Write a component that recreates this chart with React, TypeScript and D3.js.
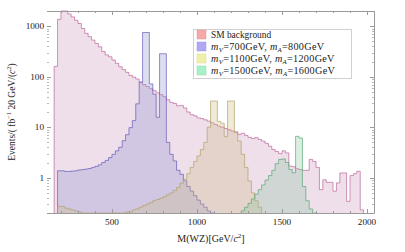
import React, { useEffect, useRef } from 'react';
import * as d3 from 'd3';

// histogram bins: 20 GeV wide
const binWidth = 20;

const smStart = 160;
const smBackground = [
  160, 1370, 2300, 2000, 1750, 1530, 1310, 1130, 900, 720,
  620, 530, 456, 390, 315, 270, 248, 214, 184, 157,
  138, 122, 106, 98, 90, 78, 70, 64, 58, 53,
  48, 44, 40, 35, 31, 29.5, 26.5, 27, 24, 20,
  17.7, 16.8, 15.3, 14.8, 14, 13.2, 12.2, 11.3, 10.5, 10,
  9.4, 8.9, 8.4, 7.9, 7.2, 7.6, 6.9, 6.3, 6.0, 6.2,
  5.7, 5.3, 4.8, 4.2, 3.6, 3.3, 3.0, 3.4, 3.1, 1.7,
  1.65, 1.5, 1.45, 1.4, 1.4, 2.3, 2.1, 1.6, 0.58, 0.91,
  0.81, 0.81, 0.54, 0.79, 1.24, 1.24, 0.34, 1.1, 1.2, 1.34,
  0.23,
];

const sig700Start = 180;
const sig700 = [
  1.37, 1.37, 1.33, 1.33, 1.35, 1.37, 1.42, 1.45, 1.48, 1.52,
  1.6, 1.68, 1.8, 2.0, 2.2, 2.5, 2.9, 3.4, 4.0, 5.4,
  7.1, 9.8, 13.5, 29, 78, 750, 750, 72, 45, 15.7,
  285, 285, 5.0, 2.9, 2.15, 1.4, 1.17, 0.87, 0.67, 0.54,
  0.44, 0.36, 0.3, 0.26, 0.22, 0.19,
];

const sig1100Start = 180;
const sig1100 = [
  0.27, 0.27, 0.25, 0.24, 0.23, 0.22, 0.21, 0.2, 0.2, 0.19,
  0.19, 0.19, 0.19, 0.19, 0.19, 0.19, 0.19, 0.19, 0.2, 0.2,
  0.21, 0.21, 0.23, 0.24, 0.26, 0.28, 0.3, 0.32, 0.35, 0.37,
  0.39, 0.42, 0.46, 0.5, 0.56, 0.64, 0.78, 0.93, 1.2, 1.6,
  2.1, 2.7, 3.6, 5.0, 10, 33, 33, 13, 12, 6.5,
  33, 33, 8.1, 5.3, 2.9, 1.6, 0.86, 0.5, 0.35, 0.26,
];

const sig1500Start = 1260;
const sig1500 = [
  0.22, 0.26, 0.31, 0.38, 0.47, 0.58, 0.72, 0.9, 1.1, 1.4,
  1.9, 2.3, 2.35, 2.0, 1.45, 1.25, 6.6, 6.1, 0.67, 0.35,
  0.24, 0.2,
];

const xTicks = [500, 1000, 1500, 2000];
const yTicks = [1, 10, 100, 1000];
const yTickLabels = ['1', '10', '100', '1000'];

const legendMV = ['700', '1100', '1500'];
const legendMA = ['800', '1200', '1600'];

const series = [
  { start: smStart, values: smBackground, fill: 'rgb(212,176,204)', op: 0.4, line: 'rgb(190,95,150)' },
  { start: sig700Start, values: sig700, fill: 'rgb(150,150,208)', op: 0.32, line: 'rgb(95,88,185)' },
  { start: sig1100Start, values: sig1100, fill: 'rgb(205,185,128)', op: 0.3, line: 'rgb(178,160,95)' },
  { start: sig1500Start, values: sig1500, fill: 'rgb(140,195,155)', op: 0.3, line: 'rgb(80,168,110)' },
];
const swatches = ['#f6a8a8', '#b0a8f4', '#f0f0a8', '#a8f0c6'];

const font = "'Liberation Serif', 'Times New Roman', serif";

export default function App() {
  const ref = useRef<SVGSVGElement>(null);

  useEffect(() => {
    const svg = d3.select(ref.current);
    svg.selectAll('*').remove();

    const left = 47, right = 374, top = 11, bottom = 213;
    const x = d3.scaleLinear().domain([118, 2041]).range([left, right]);
    const y = d3.scaleLog().domain([0.2, 2000]).range([bottom, top]).clamp(true);

    // histograms
    series.forEach((s) => {
      const pts: [number, number][] = [[s.start, 0.1]];
      s.values.forEach((v, i) => {
        const x0 = s.start + i * binWidth;
        pts.push([x0, v], [x0 + binWidth, v]);
      });
      pts.push([s.start + s.values.length * binWidth, 0.1]);

      const area = d3.area<[number, number]>()
        .x((d) => x(d[0]))
        .y0(bottom)
        .y1((d) => y(d[1]));
      const line = d3.line<[number, number]>()
        .x((d) => x(d[0]))
        .y((d) => y(d[1]));

      svg.append('path').attr('d', area(pts)).attr('fill', s.fill).attr('fill-opacity', s.op);
      svg.append('path').attr('d', line(pts)).attr('fill', 'none')
        .attr('stroke', s.line).attr('stroke-width', 0.9).attr('stroke-opacity', 0.75);
    });

    // frame
    const g = svg.append('g').attr('stroke', '#9a9a9a').attr('fill', 'none');
    g.append('line').attr('x1', left).attr('x2', right + 0.5).attr('y1', top + 0.5).attr('y2', top + 0.5);
    g.append('line').attr('x1', left).attr('x2', right + 0.5).attr('y1', bottom + 0.5).attr('y2', bottom + 0.5);
    g.append('line').attr('x1', right + 0.5).attr('x2', right + 0.5).attr('y1', top).attr('y2', bottom + 0.5);

    // x ticks
    const xMinor = d3.range(200, 2001, 100);
    xMinor.forEach((t) => {
      const major = t % 500 === 0;
      const len = major ? 4 : 2;
      const px = Math.round(x(t)) + 0.5;
      g.append('line').attr('x1', px).attr('x2', px).attr('y1', bottom).attr('y2', bottom - len);
      g.append('line').attr('x1', px).attr('x2', px).attr('y1', top).attr('y2', top + len);
    });

    // y ticks
    const yMinor: number[] = [];
    [0.1, 1, 10, 100, 1000].forEach((d) => {
      for (let k = 1; k < 10; k++) {
        const v = d * k;
        if (v >= 0.2 && v <= 2000) yMinor.push(v);
      }
    });
    yMinor.forEach((t) => {
      const major = yTicks.includes(t);
      const len = major ? 4 : 2;
      const py = Math.round(y(t)) + 0.5;
      g.append('line').attr('x1', left).attr('x2', left + len).attr('y1', py).attr('y2', py)
        .attr('stroke-opacity', major ? 1 : 0.7);
      g.append('line').attr('x1', right).attr('x2', right - len).attr('y1', py).attr('y2', py)
        .attr('stroke-opacity', major ? 1 : 0.7);
    });

    const txt = svg.append('g').attr('font-family', font).attr('fill', '#222');

    xTicks.forEach((t) => {
      txt.append('text').attr('x', x(t)).attr('y', 225).attr('text-anchor', 'middle')
        .attr('font-size', 9.2).text(String(t));
    });
    yTicks.forEach((t, i) => {
      txt.append('text').attr('x', 44).attr('y', y(t) + 3).attr('text-anchor', 'end')
        .attr('font-size', 9.2).text(yTickLabels[i]);
    });

    // axis labels
    const xl = txt.append('text').attr('x', 211).attr('y', 242).attr('text-anchor', 'middle')
      .attr('font-size', 10);
    xl.append('tspan').text('M(WZ)[GeV/');
    xl.append('tspan').attr('font-style', 'italic').text('c');
    xl.append('tspan').attr('font-size', 7).attr('dy', -4).text('2');
    xl.append('tspan').attr('dy', 4).text(']');

    const yl = txt.append('text').attr('transform', 'translate(15,112) rotate(-90)')
      .attr('text-anchor', 'middle').attr('font-size', 9.5);
    yl.append('tspan').text('Events/( fb');
    yl.append('tspan').attr('font-size', 6.5).attr('dy', -4).text('−1');
    yl.append('tspan').attr('dy', 4).text(' 20 GeV/(');
    yl.append('tspan').attr('font-style', 'italic').text('c');
    yl.append('tspan').attr('font-size', 6.5).attr('dy', -4).text('2');
    yl.append('tspan').attr('dy', 4).text(')');

    // legend
    const lg = svg.append('g');
    lg.append('rect').attr('x', 193.5).attr('y', 29.5).attr('width', 158).attr('height', 49)
      .attr('fill', 'white').attr('stroke', '#d0d0d0');
    const rows = [35, 47, 59, 71];
    rows.forEach((ry, i) => {
      lg.append('rect').attr('x', 197).attr('y', ry - 5).attr('width', 9).attr('height', 9)
        .attr('fill', swatches[i]).attr('stroke', d3.color(swatches[i])!.darker(0.3).toString())
        .attr('stroke-width', 0.5);
      const t = lg.append('text').attr('x', 211).attr('y', ry + 3).attr('font-family', font)
        .attr('fill', '#222');
      if (i === 0) {
        t.attr('font-size', 9.4).text('SM background');
      } else {
        t.attr('font-size', 10.2).attr('letter-spacing', 0.3);
        t.append('tspan').attr('font-style', 'italic').text('m');
        t.append('tspan').attr('font-size', 6.8).attr('font-style', 'italic').attr('dy', 2).text('V');
        t.append('tspan').attr('dy', -2).text(`=${legendMV[i - 1]}GeV, `);
        t.append('tspan').attr('font-style', 'italic').text('m');
        t.append('tspan').attr('font-size', 6.8).attr('font-style', 'italic').attr('dy', 2).text('A');
        t.append('tspan').attr('dy', -2).text(`=${legendMA[i - 1]}GeV`);
      }
    });
  }, []);

  return (
    <svg ref={ref} width={405} height={252}
      style={{ position: 'absolute', left: 0, top: 0, background: 'white' }} />
  );
}
